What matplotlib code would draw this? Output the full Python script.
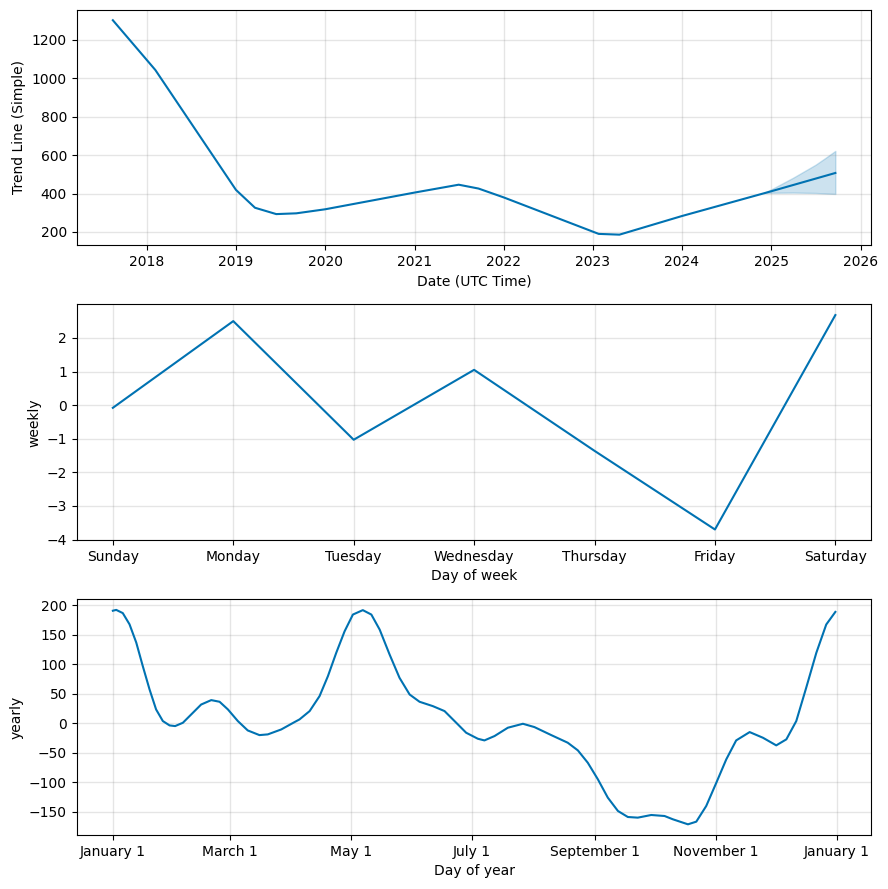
import numpy as np
import pandas as pd
import matplotlib
matplotlib.use('Agg')
import matplotlib.pyplot as plt
import matplotlib.dates as mdates
from matplotlib.ticker import FuncFormatter

# trend (piecewise linear)
trend_dates = ['2017-08-15', '2018-02-05', '2019-01-01', '2019-03-20', '2019-06-15',
               '2019-09-05', '2020-01-01', '2021-01-01', '2021-07-01', '2021-09-20',
               '2022-01-01', '2023-01-25', '2023-04-20', '2024-01-01', '2025-01-01',
               '2025-09-20']
trend_vals = [1302, 1043, 419, 326, 293, 297, 318, 405, 446, 426, 380, 190, 186, 283, 412, 507]

# forecast uncertainty band
band_dates = ['2024-12-01', '2025-01-01', '2025-04-01', '2025-07-01', '2025-08-10', '2025-09-20']
band_upper = [403, 422, 483, 550, 585, 622]
band_lower = [403, 404, 405, 403, 400, 398]

# weekly
week_days = ['Sunday', 'Monday', 'Tuesday', 'Wednesday', 'Thursday', 'Friday', 'Saturday']
week_vals = [-0.08, 2.5, -1.03, 1.05, -1.36, -3.70, 2.68]

# yearly (day of year, value)
year_days = [0, 1.7, 5, 8.4, 11.8, 15.1, 18.5, 21.8, 25.2, 28.6, 31.4, 35.3, 39.5, 44.5,
             49.6, 53.8, 58, 63, 68, 73.9, 78.1, 84.9, 91.6, 94.1, 99.2, 104.2, 108.4,
             112.6, 116.8, 121, 126, 130.3, 134.5, 139.5, 144.5, 149.6, 154.6, 161.3,
             167.2, 173.1, 178.1, 184, 187.3, 192.4, 199.1, 206.7, 212.5, 221, 229.3,
             234.4, 239.4, 244.5, 249.5, 254.6, 259.6, 264.6, 271.4, 278.1, 282.3,
             289.9, 294.1, 299.1, 304.2, 309.2, 314.2, 321, 327.7, 334.4, 339.5, 344.5,
             349.5, 354.6, 359.6, 364.2]
year_vals = [191, 192.4, 187, 168, 137, 97, 57.6, 23.7, 4, -3.4, -4.5, 1.1, 15.2, 32,
             39.5, 36.7, 23.7, 4, -11.9, -19.8, -18.6, -10.2, 2.3, 6.8, 20.9, 46.3, 80,
             119.6, 156, 184.5, 192, 184.5, 159, 116.8, 77.3, 49, 36.7, 29.3,
             20.9, 1.1, -15.8, -26, -28.8, -21.4, -7.3, -0.6, -6.2, -19.8, -32.7,
             -45.7, -66.6, -94.8, -125.8, -148.4, -158.6, -159.7, -155.2, -156.9, -162.5,
             -171, -166.5, -140, -100.5, -61, -28.8, -14.7, -24.3, -37.2, -27, 4,
             60.4, 119.6, 167.6, 189]

blue = '#0072B2'

fig = plt.figure(facecolor='w', figsize=(8.88, 8.89), dpi=100)
ax1 = fig.add_subplot(3, 1, 1)
ax2 = fig.add_subplot(3, 1, 2)
ax3 = fig.add_subplot(3, 1, 3)

# trend
td = pd.to_datetime(trend_dates)
ax1.plot(td, trend_vals, ls='-', c=blue)
bd = pd.to_datetime(band_dates)
ax1.fill_between(bd, band_lower, band_upper, color=blue, alpha=0.2)
ax1.xaxis.set_major_locator(mdates.YearLocator())
ax1.xaxis.set_major_formatter(mdates.DateFormatter('%Y'))
ax1.grid(True, which='major', c='gray', ls='-', lw=1, alpha=0.2)
ax1.set_xlabel('Date (UTC Time)')
ax1.set_ylabel('Trend Line (Simple)')

# weekly
x = np.arange(len(week_days))
ax2.plot(x, week_vals, ls='-', c=blue)
ax2.set_xticks(x)
ax2.set_xticklabels(week_days)
ax2.grid(True, which='major', c='gray', ls='-', lw=1, alpha=0.2)
ax2.set_xlabel('Day of week')
ax2.set_ylabel('weekly')

# yearly
yd = pd.Timestamp('2017-01-01') + pd.to_timedelta(year_days, unit='D')
ax3.plot(yd, year_vals, ls='-', c=blue)
ax3.xaxis.set_major_locator(mdates.MonthLocator(bymonth=range(1, 13), bymonthday=1, interval=2))
ax3.xaxis.set_major_formatter(FuncFormatter(
    lambda v, pos=None: '{dt:%B} {dt.day}'.format(dt=mdates.num2date(v))))
ax3.grid(True, which='major', c='gray', ls='-', lw=1, alpha=0.2)
ax3.set_xlabel('Day of year')
ax3.set_ylabel('yearly')

fig.subplots_adjust(left=0.0864, right=0.9814, top=0.9893, bottom=0.0607, hspace=0.25)
fig.savefig('out.png')
